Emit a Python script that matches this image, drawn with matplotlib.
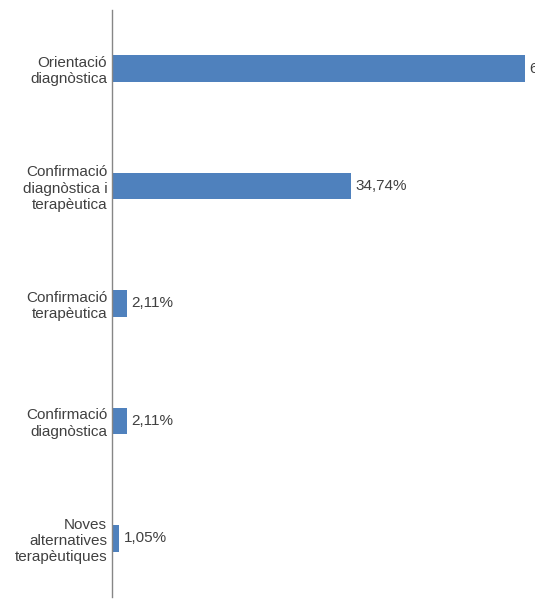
import matplotlib
matplotlib.use("Agg")
import matplotlib.pyplot as plt

categories = ["Orientació\ndiagnòstica", "Confirmació\ndiagnòstica i\nterapèutica",
              "Confirmació\nterapèutica", "Confirmació\ndiagnòstica",
              "Noves\nalternatives\nterapèutiques"]
values = [60.00, 34.74, 2.11, 2.11, 1.05]
labels = ["60,00%", "34,74%", "2,11%", "2,11%", "1,05%"]

plt.rcParams['font.family'] = ['Liberation Sans', 'DejaVu Sans']
fig = plt.figure(figsize=(5.35, 5.99), dpi=100)
ax = fig.add_axes([112/535, 2/599, 1 - 112/535, 587/599])
ax.set_facecolor('none')
pos = list(range(len(categories)))
ax.barh(pos, values, height=0.225, color='#4F81BD')
ax.set_ylim(len(categories) - 0.5, -0.5)
ax.set_xlim(0, 61.5)
ax.set_yticks(pos)
ax.set_yticklabels(categories, fontsize=11, color='#404040', ha='right',
                   multialignment='right', linespacing=1.2)
ax.tick_params(axis='y', length=0, pad=3.5)
ax.set_xticks([])
for s in ['top', 'right', 'bottom']:
    ax.spines[s].set_visible(False)
ax.spines['left'].set_color('#868686')
ax.spines['left'].set_linewidth(1.0)
for p, v, l in zip(pos, values, labels):
    ax.annotate(l, (v, p), xytext=(3.5, 0), textcoords='offset points', va='center', ha='left',
                fontsize=11, color='#404040', annotation_clip=False)
fig.savefig("out.png", dpi=100)
